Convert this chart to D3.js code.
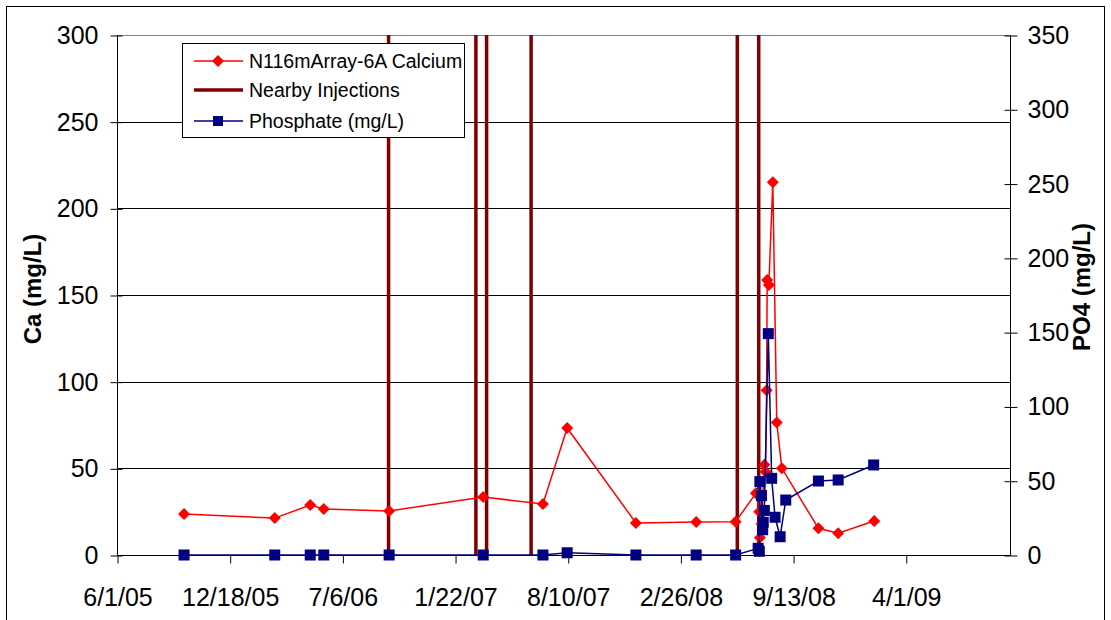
<!DOCTYPE html>
<html>
<head>
<meta charset="utf-8">
<script src="https://cdn.jsdelivr.net/npm/d3@7/dist/d3.min.js"></script>
<style>
  html, body { margin: 0; padding: 0; background: #fff; }
  svg { display: block; font-family: Arial, "Liberation Sans", sans-serif; }
</style>
</head>
<body>
<svg id="chart" width="1111" height="620"></svg>
<script>
// ---------------- DATA ----------------
const xTickLabels = ["6/1/05","12/18/05","7/6/06","1/22/07","8/10/07","2/26/08","9/13/08","4/1/09"];
const leftTicks = [0, 50, 100, 150, 200, 250, 300];
const rightTicks = [0, 50, 100, 150, 200, 250, 300, 350];

const caDates = ["2005-09-28","2006-03-08","2006-05-10","2006-06-03","2006-09-27","2007-03-13",
  "2007-06-27","2007-08-09","2007-12-09","2008-03-25","2008-06-03","2008-07-09","2008-07-15",
  "2008-07-16","2008-07-19","2008-07-24","2008-07-26","2008-07-28","2008-07-29","2008-08-01",
  "2008-08-08","2008-08-15","2008-08-24","2008-10-28","2008-12-02","2009-02-04"];
const caValues = [23.7, 21.3, 28.8, 26.5, 25.4, 33.5, 29.4, 73.3, 18.5, 19.0, 19.2, 35.6, 25,
  10, 18, 52, 48, 95, 158.6, 155.8, 215, 76.5, 50, 15.4, 12.5, 19.6];

const po4Dates = ["2005-09-28","2006-03-08","2006-05-10","2006-06-03","2006-09-27","2007-03-13",
  "2007-06-27","2007-08-09","2007-12-09","2008-03-25","2008-06-03","2008-07-13","2008-07-15",
  "2008-07-16","2008-07-19","2008-07-21","2008-07-22","2008-07-24","2008-07-31","2008-08-06",
  "2008-08-12","2008-08-21","2008-08-31","2008-10-28","2008-12-02","2009-02-03"];
const po4Values = [0, 0, 0, 0, 0, 0, 0, 1.5, 0, 0, 0, 4.5, 2.5, 49.4, 40, 17, 22, 30, 149,
  51.6, 25.4, 12.3, 37, 49.8, 50.5, 60.6];

const injectionDates = ["2006-09-26","2007-02-28","2007-03-19","2007-06-06","2008-06-06","2008-07-14"];
const injectionRange = [0, 300];

const seriesNames = ["N116mArray-6A Calcium", "Nearby Injections", "Phosphate (mg/L)"];
const xStart = "2005-06-01";
const xSpanDays = 1585;

// ---------------- LAYOUT ----------------
const margin = { left: 117, right: 1010, top: 35, bottom: 555 };
const colors = { ca: "#FF0000", inj: "#800000", po4: "#000080" };

const parse = d3.utcParse("%Y-%m-%d");
const parseTick = d3.utcParse("%m/%d/%y");

const svg = d3.select("#chart");

// outer frame
svg.append("rect")
  .attr("x", 6.5).attr("y", 6.5).attr("width", 1098).attr("height", 640)
  .attr("fill", "#fff").attr("stroke", "#000").attr("stroke-width", 1);

const x0 = parse(xStart);
const x = d3.scaleUtc()
  .domain([x0, d3.utcDay.offset(x0, xSpanDays)])
  .range([margin.left, margin.right]);
const yL = d3.scaleLinear().domain([0, 300]).range([margin.bottom, margin.top]);
const yR = d3.scaleLinear().domain([0, 350]).range([margin.bottom, margin.top]);

// gridlines
svg.append("g").selectAll("line").data(leftTicks.filter(d => d > 0)).join("line")
  .attr("x1", margin.left).attr("x2", margin.right)
  .attr("y1", d => Math.round(yL(d)) + 0.5).attr("y2", d => Math.round(yL(d)) + 0.5)
  .attr("stroke", d => d === 300 ? "#808080" : "#000").attr("stroke-width", 1);

// axes
const fontTick = 25;
const gL = svg.append("g").attr("transform", `translate(${margin.left + 0.5},0.5)`)
  .call(d3.axisLeft(yL).tickValues(leftTicks).tickSize(7).tickPadding(12));
gL.selectAll(".tick line").attr("x1", 5);
const gR = svg.append("g").attr("transform", `translate(${margin.right + 0.5},0.5)`)
  .call(d3.axisRight(yR).tickValues(rightTicks).tickSize(7).tickPadding(10));
gR.selectAll(".tick line").attr("x1", -6);
const xTickDates = xTickLabels.map(parseTick);
const gX = svg.append("g").attr("transform", `translate(0.5,${margin.bottom + 0.5})`)
  .call(d3.axisBottom(x).tickValues(xTickDates).tickSize(8).tickPadding(25)
    .tickFormat((d, i) => xTickLabels[i]));
[gL, gR, gX].forEach(g => {
  g.select(".domain").attr("stroke", "#000").attr("stroke-width", 1);
  g.selectAll(".tick line").attr("stroke", "#000");
  g.selectAll("text").attr("font-size", fontTick).attr("fill", "#000")
    .attr("font-family", "Arial, 'Liberation Sans', sans-serif");
});
gX.select(".domain").attr("d", `M${margin.left},0H${margin.right}`);
gL.select(".domain").attr("d", `M0,${margin.bottom}V${margin.top}`);
gR.select(".domain").attr("d", `M0,${margin.bottom}V${margin.top}`);

// axis titles
svg.append("text")
  .attr("transform", `translate(41,289) rotate(-90)`)
  .attr("text-anchor", "middle").attr("font-size", 24).attr("font-weight", "bold")
  .text("Ca (mg/L)");
svg.append("text")
  .attr("transform", `translate(1090,287) rotate(-90)`)
  .attr("text-anchor", "middle").attr("font-size", 24).attr("font-weight", "bold")
  .text("PO4 (mg/L)");

// injections
svg.append("g").selectAll("line").data(injectionDates).join("line")
  .attr("x1", d => x(parse(d))).attr("x2", d => x(parse(d)))
  .attr("y1", yL(injectionRange[0])).attr("y2", yL(injectionRange[1]))
  .attr("stroke", colors.inj).attr("stroke-width", 3.5);

// calcium
const caData = caDates.map((d, i) => ({ date: parse(d), v: caValues[i] }));
const diamond = s => `M0,${-s}L${s},0L0,${s}L${-s},0Z`;
svg.append("path").datum(caData)
  .attr("d", d3.line().x(d => x(d.date)).y(d => yL(d.v)))
  .attr("fill", "none").attr("stroke", colors.ca).attr("stroke-width", 1.5);
svg.append("g").selectAll("path").data(caData).join("path")
  .attr("transform", d => `translate(${x(d.date)},${yL(d.v)})`)
  .attr("d", diamond(6)).attr("fill", colors.ca);

// phosphate
const po4Data = po4Dates.map((d, i) => ({ date: parse(d), v: po4Values[i] }));
svg.append("path").datum(po4Data)
  .attr("d", d3.line().x(d => x(d.date)).y(d => yR(d.v)))
  .attr("fill", "none").attr("stroke", colors.po4).attr("stroke-width", 1.5);
svg.append("g").selectAll("rect").data(po4Data).join("rect")
  .attr("x", d => x(d.date) - 5.5).attr("y", d => yR(d.v) - 5.5)
  .attr("width", 11).attr("height", 11).attr("fill", colors.po4);

// legend
const lg = svg.append("g");
lg.append("rect").attr("x", 182.5).attr("y", 43.5).attr("width", 282).attr("height", 94)
  .attr("fill", "#fff").attr("stroke", "#000").attr("stroke-width", 1);
const legY = [61, 90, 121];
seriesNames.forEach((name, i) => {
  const yy = legY[i];
  const col = [colors.ca, colors.inj, colors.po4][i];
  lg.append("line").attr("x1", 194).attr("x2", 243).attr("y1", yy).attr("y2", yy)
    .attr("stroke", col).attr("stroke-width", i === 1 ? 3.5 : 1.5);
  if (i === 0) lg.append("path").attr("transform", `translate(218,${yy})`).attr("d", diamond(6)).attr("fill", col);
  if (i === 2) lg.append("rect").attr("x", 213).attr("y", yy - 5).attr("width", 10).attr("height", 10).attr("fill", col);
  lg.append("text").attr("x", 249).attr("y", yy).attr("dy", "0.35em")
    .attr("font-size", 19.5).attr("fill", "#000").text(name);
});
</script>
</body>
</html>
